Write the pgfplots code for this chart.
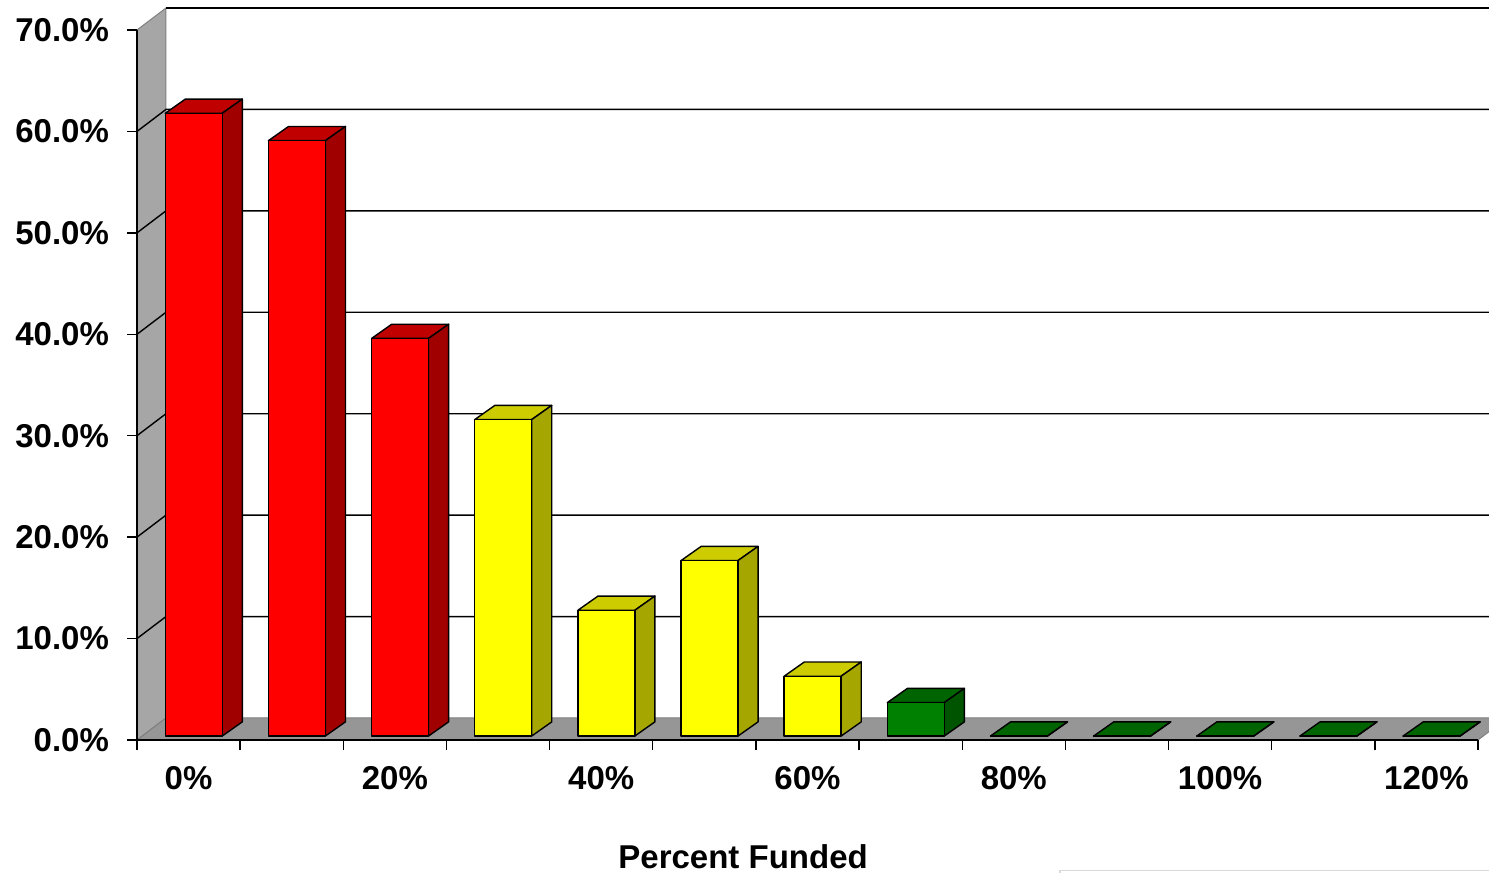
\documentclass[border=0pt]{standalone}
\usepackage{fontspec}
\setmainfont{Liberation Sans}
\usepackage{pgfplots}
\usepackage{pgfplotstable}
\pgfplotsset{compat=1.18}
\definecolor{frontr}{HTML}{FF0000}
\definecolor{sider}{HTML}{A00000}
\definecolor{topr}{HTML}{C00000}
\definecolor{fronty}{HTML}{FFFF00}
\definecolor{sidey}{HTML}{A6A600}
\definecolor{topy}{HTML}{CCCC00}
\definecolor{frontg}{HTML}{008000}
\definecolor{sideg}{HTML}{005400}
\definecolor{topg}{HTML}{006400}
\definecolor{floorgray}{HTML}{969696}
\definecolor{wallgray}{HTML}{A6A6A6}
\definecolor{edgegray}{HTML}{808080}

\pgfplotstableread{
idx value c
0 61.4 r
1 58.7 r
2 39.2 r
3 31.2 y
4 12.4 y
5 17.3 y
6 5.9 y
7 3.3 g
8 0 g
9 0 g
10 0 g
11 0 g
12 0 g
}\bardata

\newcommand\drawbars{%
  \pgfplotsforeachungrouped \i in {0,...,12}{%
    \pgfplotstablegetelem{\i}{value}\of\bardata \let\bv\pgfplotsretval
    \pgfplotstablegetelem{\i}{c}\of\bardata \let\bc\pgfplotsretval
    \pgfmathsetmacro\xa{\i-0.226}%
    \pgfmathsetmacro\xb{\i+0.326}%
    \pgfmathsetmacro\xc{\i-0.226+0.195}%
    \pgfmathsetmacro\xd{\i+0.326+0.195}%
    \pgfmathsetmacro\ya{0.39}%
    \pgfmathsetmacro\yb{\bv+0.39}%
    \pgfmathsetmacro\yc{0.39+1.4}%
    \pgfmathsetmacro\yd{\bv+0.39+1.4}%
    \edef\tmp{\noexpand\addplot[fill=top\bc, draw=black, line width=0.7pt, line join=round, forget plot] coordinates {(\xa,\yb) (\xb,\yb) (\xd,\yd) (\xc,\yd)} -- cycle;}\tmp
    \edef\tmp{\noexpand\addplot[fill=side\bc, draw=black, line width=0.7pt, line join=round, forget plot] coordinates {(\xb,\ya) (\xd,\yc) (\xd,\yd) (\xb,\yb)} -- cycle;}\tmp
    \edef\tmp{\noexpand\addplot[fill=front\bc, draw=black, line width=0.7pt, line join=round, forget plot] coordinates {(\xa,\ya) (\xb,\ya) (\xb,\yb) (\xa,\yb)} -- cycle;}\tmp
  }%
}

\begin{document}
\begin{tikzpicture}
\begin{axis}[
  scale only axis, width=670.5pt, height=355pt,
  xmin=-0.5, xmax=12.5, ymin=0, ymax=70,
  clip=false, axis on top,
  axis x line*=bottom, axis y line*=left,
  axis line style={black, line width=0.7pt},
  tick align=outside, major tick length=5pt,
  tick style={black, line width=0.7pt},
  ytick={0,10,...,70},
  yticklabel={\pgfmathprintnumber[fixed,fixed zerofill,precision=1]{\tick}\%},
  yticklabel style={xshift=-5.5pt},
  xtick={-0.5,0.5,...,12.5}, xticklabels={},
  extra x ticks={0,2,4,6,8,10,12},
  extra x tick labels={0\%,20\%,40\%,60\%,80\%,100\%,120\%},
  extra x tick style={major tick length=0pt, xticklabel style={yshift=-9.5pt}},
  ticklabel style={font=\bfseries\fontsize{16.5}{19.5}\selectfont},
  /pgf/number format/assume math mode=true,
  xlabel={Percent Funded},
  xlabel style={font=\bfseries\fontsize{16.5}{19.5}\selectfont, at={(axis description cs:0.452,-0.165)}, anchor=center},
]
% walls and floor
\addplot[fill=wallgray, draw=edgegray, line width=0.5pt, forget plot] coordinates {(-0.5,0) (-0.5,70) (-0.219,72.17) (-0.219,2.17)} -- cycle;
\addplot[fill=floorgray, draw=edgegray, line width=0.5pt, forget plot] coordinates {(-0.5,0) (12.5,0) (12.78,2.17) (-0.219,2.17)} -- cycle;
% gridlines on back wall
\addplot[black, line width=0.7pt, forget plot] coordinates {(-0.5,10) (-0.219,12.17) (12.78,12.17)};
\addplot[black, line width=0.7pt, forget plot] coordinates {(-0.5,20) (-0.219,22.17) (12.78,22.17)};
\addplot[black, line width=0.7pt, forget plot] coordinates {(-0.5,30) (-0.219,32.17) (12.78,32.17)};
\addplot[black, line width=0.7pt, forget plot] coordinates {(-0.5,40) (-0.219,42.17) (12.78,42.17)};
\addplot[black, line width=0.7pt, forget plot] coordinates {(-0.5,50) (-0.219,52.17) (12.78,52.17)};
\addplot[black, line width=0.7pt, forget plot] coordinates {(-0.5,60) (-0.219,62.17) (12.78,62.17)};
\addplot[black, line width=0.7pt, forget plot] coordinates {(-0.219,72.17) (12.78,72.17)};
\drawbars
\end{axis}
\draw[black!15, line width=0.6pt] (461.5pt,-66.5pt) -- (461.5pt,-65.3pt) -- (680pt,-65.3pt);
\pgfresetboundingbox
\path[use as bounding box] (-68.5pt,-66.5pt) rectangle (676pt,370pt);
\end{tikzpicture}
\end{document}
